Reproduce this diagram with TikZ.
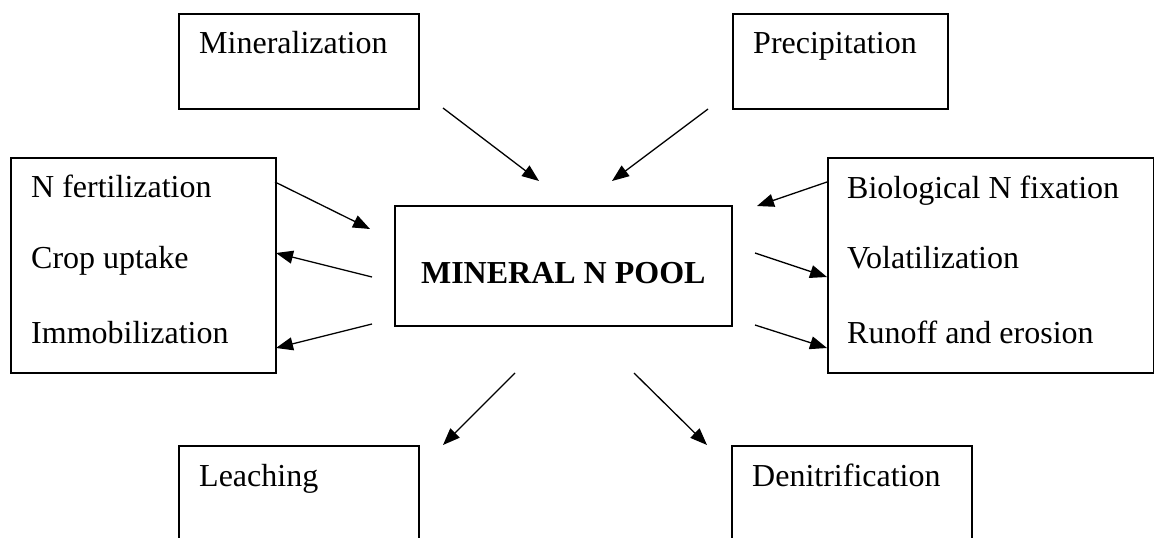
\documentclass[tikz,border=0pt]{standalone}
\usepackage{fontspec}
\setmainfont{Liberation Serif}
\usetikzlibrary{positioning,calc,arrows.meta}
\tikzset{
  box/.style={draw, line width=1.6pt, inner sep=0pt, anchor=north west}, % frame, placed by its top left corner
  lbl/.style={inner sep=0pt, anchor=base west, font=\fontsize{32}{38}\selectfont},
  flow/.style={-{Triangle[length=17pt,width=13pt]}, line width=1.3pt},
}

\begin{document}
\begin{tikzpicture}[x=1pt,y=-1pt]
   \clip (0,0) rectangle (1154,538);
   \fill[white] (0,0) rectangle (1154,538);
   % frames
   \node[box, minimum width=240pt, minimum height=95pt] (minz) at (178,13) {};
   \node[box, minimum width=215pt, minimum height=95pt] (precip) at (732,13) {};
   \node[box, minimum width=265pt, minimum height=215pt] (left) at (10,157) {};
   \node[box, minimum width=337pt, minimum height=120pt] (pool) at (394,205) {};
   \node[box, minimum width=326pt, minimum height=215pt] (right) at (827,157) {};
   \node[box, minimum width=240pt, minimum height=120pt] (leach) at (178,445) {};
   \node[box, minimum width=240pt, minimum height=120pt] (denit) at (731,445) {};
   % texts
   \node[lbl] (t_minz) at ($(minz.north west)+(21,40)$) {Mineralization};
   \node[lbl] (t_precip) at ($(precip.north west)+(21,40)$) {Precipitation};
   \node[lbl] (t_fert) at ($(left.north west)+(21,40)$) {N fertilization};
   \node[lbl] (t_crop) at ($(t_fert.base west)+(0,71)$) {Crop uptake};
   \node[lbl] (t_immob) at ($(t_crop.base west)+(0,75)$) {Immobilization};
   \node[lbl] (t_fix) at ($(right.north west)+(20,41)$) {Biological N fixation};
   \node[lbl] (t_vol) at ($(t_fix.base west)+(0,70)$) {Volatilization};
   \node[lbl] (t_run) at ($(t_vol.base west)+(0,75)$) {Runoff and erosion};
   \node[lbl] (t_leach) at ($(leach.north west)+(21,41)$) {Leaching};
   \node[lbl] (t_denit) at ($(denit.north west)+(21,41)$) {Denitrification};
   \node[lbl, anchor=base, font=\fontsize{32}{38}\selectfont\bfseries] (t_pool) at ($(pool.south)+(0,-43)$) {MINERAL N POOL};
   % arrow ends
   \coordinate (a1) at (443,108);  \coordinate (b1) at (539,181);
   \coordinate (a2) at (708,109);  \coordinate (b2) at (612,181);
   \coordinate (a3) at (827,182);  \coordinate (b3) at (757,206);
   \coordinate (a4) at (275,182);  \coordinate (b4) at (370,229);
   \coordinate (a5) at (372,277);  \coordinate (b5) at (276,253);
   \coordinate (a6) at (372,324);  \coordinate (b6) at (276,348);
   \coordinate (a7) at (755,253);  \coordinate (b7) at (827,277);
   \coordinate (a8) at (755,325);  \coordinate (b8) at (827,348);
   \coordinate (a9) at (515,373);  \coordinate (b9) at (443,445);
   \coordinate (a10) at (634,373); \coordinate (b10) at (707,445);
   \path[flow]
    (a1) edge (b1)
    (a2) edge (b2)
    (a3) edge (b3)
    (a4) edge (b4)
    (a5) edge (b5)
    (a6) edge (b6)
    (a7) edge (b7)
    (a8) edge (b8)
    (a9) edge (b9)
    (a10) edge (b10);
\end{tikzpicture}
\end{document}
